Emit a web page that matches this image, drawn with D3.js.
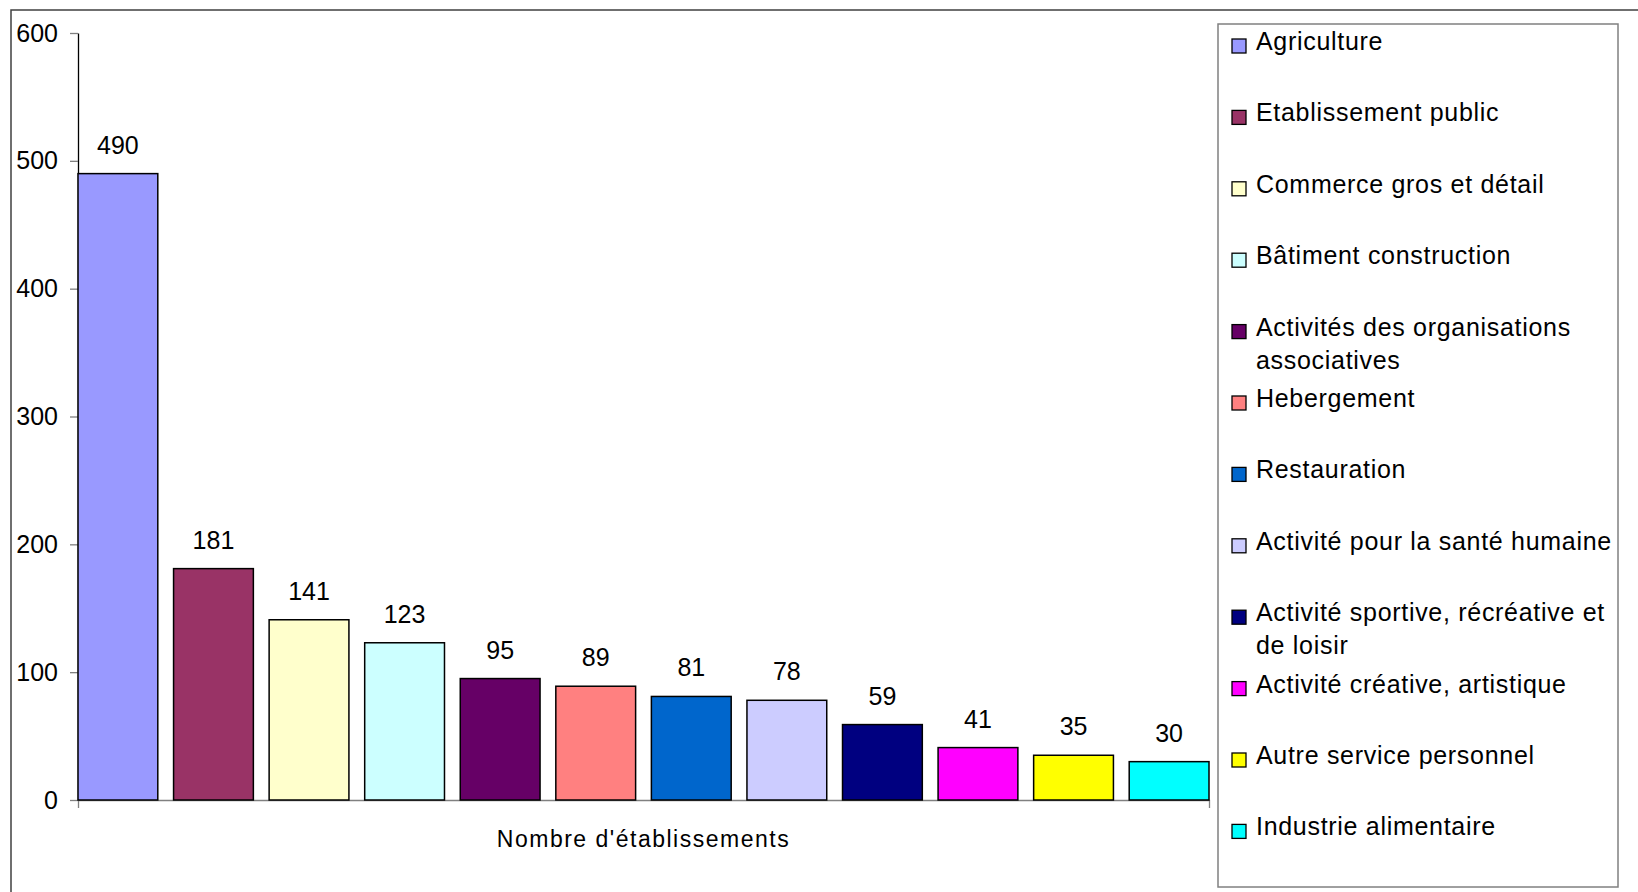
<!DOCTYPE html>
<html>
<head>
<meta charset="utf-8">
<script src="https://cdn.jsdelivr.net/npm/d3@7"></script>
<style>
  body { margin: 0; background: #fff; }
  svg { display: block; font-family: "Liberation Sans", Arial, sans-serif; }
</style>
</head>
<body>
<svg id="chart" width="1638" height="892"></svg>
<script>
// Sectors, in the order of the bars and of the legend
const categories = [
  'Agriculture',
  'Etablissement public',
  'Commerce gros et détail',
  'Bâtiment construction',
  'Activités des organisations associatives',
  'Hebergement',
  'Restauration',
  'Activité pour la santé humaine',
  'Activité sportive, récréative et de loisir',
  'Activité créative, artistique',
  'Autre service personnel',
  'Industrie alimentaire'
]
// Legend lines (wrapped like the original)
const legendLines = [
  ['Agriculture'],
  ['Etablissement public'],
  ['Commerce gros et détail'],
  ['Bâtiment construction'],
  ['Activités des organisations', 'associatives'],
  ['Hebergement'],
  ['Restauration'],
  ['Activité pour la santé humaine'],
  ['Activité sportive, récréative et', 'de loisir'],
  ['Activité créative, artistique'],
  ['Autre service personnel'],
  ['Industrie alimentaire']
]
const values = [490, 181, 141, 123, 95, 89, 81, 78, 59, 41, 35, 30]
const colors = ['#9999ff', '#993366', '#ffffcc', '#ccffff', '#660066', '#ff8080',
                '#0066cc', '#ccccff', '#000080', '#ff00ff', '#ffff00', '#00ffff']
const yTicks = [0, 100, 200, 300, 400, 500, 600]
const axisTitle = "Nombre d'établissements"

const svg = d3.select('#chart')

// outer chart border
svg.append('rect')
  .attr('x', 11).attr('y', 10).attr('width', 1700).attr('height', 1000)
  .attr('fill', 'none').attr('stroke', '#404040').attr('stroke-width', 1.5)

const plot = { left: 78, right: 1209, top: 33, bottom: 800 }

const x = d3.scaleBand()
  .domain(categories)
  .range([plot.left, plot.right])
  .paddingInner(0.165)
  .paddingOuter(0)

const y = d3.scaleLinear().domain([0, 600]).range([plot.bottom, plot.top])

// y axis
const yAxis = svg.append('g')
  .attr('transform', `translate(${plot.left},0)`)
  .call(d3.axisLeft(y).tickValues(yTicks).tickSize(8).tickPadding(12).tickSizeOuter(0))
yAxis.select('.domain').attr('stroke', '#000').attr('stroke-width', 1.3)
yAxis.selectAll('.tick line').attr('stroke', '#808080').attr('stroke-width', 1.3)
yAxis.selectAll('.tick text')
  .attr('font-size', 25).attr('fill', '#000')
  .attr('font-family', '"Liberation Sans", Arial, sans-serif')

// x axis (baseline with end ticks below)
const xAxis = svg.append('g')
  .attr('transform', `translate(0,${plot.bottom})`)
  .call(d3.axisBottom(x).tickValues([]).tickSizeOuter(8))
xAxis.select('.domain').attr('stroke', '#808080').attr('stroke-width', 1.3)

// bars
svg.append('g').selectAll('rect')
  .data(values)
  .join('rect')
  .attr('x', (d, i) => x(categories[i]))
  .attr('y', d => y(d))
  .attr('width', x.bandwidth())
  .attr('height', d => y(0) - y(d))
  .attr('fill', (d, i) => colors[i])
  .attr('stroke', '#000')
  .attr('stroke-width', 1.5)

// value labels
svg.append('g').selectAll('text')
  .data(values)
  .join('text')
  .attr('x', (d, i) => x(categories[i]) + x.bandwidth() / 2)
  .attr('y', d => y(d) - 20)
  .attr('text-anchor', 'middle')
  .attr('font-size', 25)
  .text(d => d)

// axis title
svg.append('text')
  .attr('x', (plot.left + plot.right) / 2)
  .attr('y', 847)
  .attr('text-anchor', 'middle')
  .attr('font-size', 23)
  .attr('letter-spacing', 1.5)
  .text(axisTitle)

// legend
svg.append('rect')
  .attr('x', 1218).attr('y', 24).attr('width', 400).attr('height', 863)
  .attr('fill', '#fff').attr('stroke', '#808080').attr('stroke-width', 1.5)

const legendY = d3.scaleLinear().domain([0, 10]).range([50, 764])

const item = svg.append('g').selectAll('g')
  .data(legendLines)
  .join('g')
  .attr('transform', (d, i) => `translate(0,${legendY(i)})`)

item.append('rect')
  .attr('x', 1232).attr('y', -11).attr('width', 14).attr('height', 14)
  .attr('fill', (d, i) => colors[i])
  .attr('stroke', '#000').attr('stroke-width', 1.3)

item.append('text')
  .attr('font-size', 25)
  .attr('letter-spacing', 0.7)
  .selectAll('tspan')
  .data(d => d)
  .join('tspan')
  .attr('x', 1256)
  .attr('y', (d, j) => j * 33)
  .text(d => d)
</script>
</body>
</html>
